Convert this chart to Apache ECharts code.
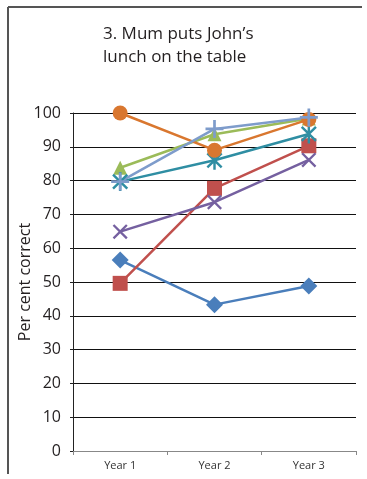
<!DOCTYPE html>
<html><head><meta charset="utf-8">
<script src="https://cdn.jsdelivr.net/npm/echarts@6/dist/echarts.min.js"></script>
<style>html,body{margin:0;padding:0;background:#fff}#c{width:367px;height:479px}</style>
</head><body><div id="c"></div>
<script>
const categories = ['Year 1', 'Year 2', 'Year 3'];
const yTicks = [0, 10, 20, 30, 40, 50, 60, 70, 80, 90, 100];
const blueDiamond = [56.5, 43.3, 48.8];
const redSquare = [49.6, 77.7, 90.3];
const greenTriangle = [83.8, 93.7, 98.4];
const purpleCross = [64.9, 73.6, 86.1];
const tealAsterisk = [79.7, 86.0, 93.8];
const orangeCircle = [100, 89.0, 98.1];
const lightBluePlus = [79.7, 95.3, 98.7];

const P_PLUS = 'path://M-1.2,-8L1.2,-8L1.2,-1.2L8,-1.2L8,1.2L1.2,1.2L1.2,8L-1.2,8L-1.2,1.2L-8,1.2L-8,-1.2L-1.2,-1.2Z';
const P_X = 'path://M-6.15,-7.85L7.85,6.15L6.15,7.85L-7.85,-6.15ZM-7.85,6.15L6.15,-7.85L7.85,-6.15L-6.15,7.85Z';
const P_AST = 'path://M-6.15,-7.85L7.85,6.15L6.15,7.85L-7.85,-6.15ZM-7.85,6.15L6.15,-7.85L7.85,-6.15L-6.15,7.85ZM-1.2,-9.5L1.2,-9.5L1.2,9.5L-1.2,9.5Z';

function s(name, data, color, symbol, size) {
  return {
    name, type: 'line', data, symbol, symbolSize: size,
    lineStyle: {color, width: 2.5},
    itemStyle: {color, borderWidth: 0},
    emphasis: {disabled: true}, animation: false
  };
}

const chart = echarts.init(document.getElementById('c'));
chart.setOption({
  animation: false,
  grid: {left: 73, right: 11, top: 113, bottom: 28},
  graphic: [
    {type: 'line', shape: {x1: 8, y1: 7, x2: 362, y2: 7}, style: {stroke: '#555', lineWidth: 2}},
    {type: 'line', shape: {x1: 8, y1: 7, x2: 8, y2: 474}, style: {stroke: '#555', lineWidth: 2}},
    {type: 'text', left: 103, top: 23, style: {text: '3. Mum puts John\u2019s\nlunch on the table', font: '17px "Open Sans"', fill: '#231f20', lineHeight: 23}}
  ],
  xAxis: {
    type: 'category', data: categories, boundaryGap: true,
    axisLine: {lineStyle: {color: '#888', width: 1}},
    axisTick: {show: true, length: 4, lineStyle: {color: '#888'}},
    axisLabel: {fontSize: 11, color: '#333', margin: 9, fontFamily: 'Open Sans'}
  },
  yAxis: {
    type: 'value', min: yTicks[0], max: yTicks[yTicks.length - 1], interval: 10,
    name: 'Per cent correct', nameLocation: 'middle', nameRotate: 90, nameGap: 40,
    nameMoveOverlap: false,
    nameTextStyle: {fontSize: 16, color: '#231f20', fontFamily: 'Open Sans'},
    axisLine: {show: true, lineStyle: {color: '#222', width: 1}},
    axisTick: {show: true, length: 3, lineStyle: {color: '#222'}},
    axisLabel: {fontSize: 16, color: '#231f20', margin: 12, fontFamily: 'Open Sans'},
    splitLine: {lineStyle: {color: '#111', width: 1}}
  },
  series: [
    s('Blue', blueDiamond, '#4a7ebb', 'diamond', 17),
    s('Red', redSquare, '#c0504d', 'rect', 15),
    s('Green', greenTriangle, '#9bbb59', 'triangle', 14),
    s('Purple', purpleCross, '#7560a0', P_X, [15, 15]),
    s('Teal', tealAsterisk, '#2f8ea3', P_AST, [16, 19]),
    s('Orange', orangeCircle, '#d9772f', 'circle', 15),
    s('LightBlue', lightBluePlus, '#7e9ccb', P_PLUS, [18, 18])
  ]
});
</script></body></html>
